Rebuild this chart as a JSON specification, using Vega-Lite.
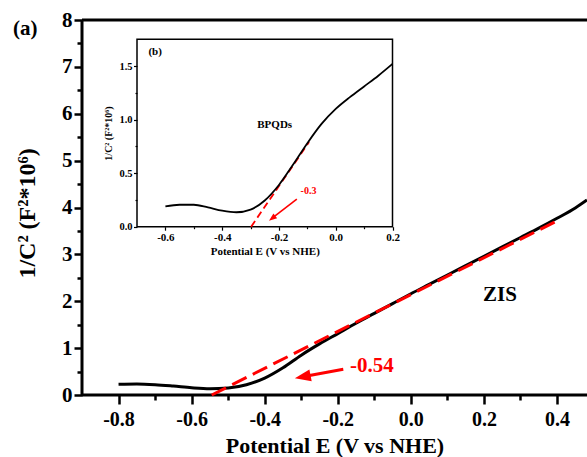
{
  "$schema": "https://vega.github.io/schema/vega-lite/v6.json",
  "width": 505,
  "height": 375,
  "autosize": "none",
  "padding": {"left": 82, "top": 20, "right": 0, "bottom": 62},
  "background": "white",
  "config": {
    "view": {"stroke": null},
    "font": "Liberation Serif",
    "axis": {"domainColor": "black", "tickColor": "black", "labelColor": "black", "titleColor": "black", "grid": false, "labelFont": "Liberation Serif", "titleFont": "Liberation Serif", "labelFontWeight": "bold", "titleFontWeight": "bold", "labelFlush": false, "labelOverlap": false}
  },
  "title": {"text": "(a)", "anchor": "start", "frame": "group", "orient": "top", "offset": 0, "fontSize": 21, "font": "Liberation Serif", "fontWeight": "bold", "color": "black", "baseline": "alphabetic", "dx": -69, "dy": 47},
  "datasets": {
    "zis": [
      {"E": -0.8, "C": 0.23}, {"E": -0.75, "C": 0.235}, {"E": -0.7, "C": 0.22}, {"E": -0.65, "C": 0.19},
      {"E": -0.6, "C": 0.155}, {"E": -0.55, "C": 0.135}, {"E": -0.5, "C": 0.15}, {"E": -0.45, "C": 0.22},
      {"E": -0.4, "C": 0.36}, {"E": -0.35, "C": 0.58}, {"E": -0.3, "C": 0.85}, {"E": -0.25, "C": 1.09},
      {"E": -0.2, "C": 1.31}, {"E": -0.15, "C": 1.53}, {"E": -0.1, "C": 1.74}, {"E": -0.05, "C": 1.95},
      {"E": 0.0, "C": 2.16}, {"E": 0.05, "C": 2.36}, {"E": 0.1, "C": 2.56}, {"E": 0.15, "C": 2.76},
      {"E": 0.2, "C": 2.96}, {"E": 0.25, "C": 3.16}, {"E": 0.3, "C": 3.36}, {"E": 0.35, "C": 3.56},
      {"E": 0.4, "C": 3.77}, {"E": 0.45, "C": 3.99}, {"E": 0.482, "C": 4.16}
    ],
    "zisFit": [{"E": -0.545, "C": 0.0}, {"E": 0.399, "C": 3.71}],
    "zisArrow": [{"E": -0.185, "C": 0.55, "E2": -0.296, "C2": 0.388}],
    "zisHead": [{"E": -0.296, "C": 0.388}],
    "zisNotes": [{"E": -0.107, "C": 0.62, "t": "-0.54"}],
    "zisLabel": [{"E": 0.244, "C": 2.13, "t": "ZIS"}],
    "zisFrameH": [{"C": 0}, {"C": 8}],
    "zisFrameV": [{"E": -0.9}],
    "bp": [
      {"E": -0.6, "C": 0.19}, {"E": -0.55, "C": 0.205}, {"E": -0.5, "C": 0.205}, {"E": -0.45, "C": 0.18},
      {"E": -0.4, "C": 0.15}, {"E": -0.35, "C": 0.135}, {"E": -0.3, "C": 0.16}, {"E": -0.25, "C": 0.245},
      {"E": -0.2, "C": 0.39}, {"E": -0.15, "C": 0.58}, {"E": -0.1, "C": 0.78}, {"E": -0.05, "C": 0.96},
      {"E": 0.0, "C": 1.1}, {"E": 0.05, "C": 1.21}, {"E": 0.1, "C": 1.31}, {"E": 0.15, "C": 1.41},
      {"E": 0.2, "C": 1.52}
    ],
    "bpFit": [{"E": -0.298, "C": 0.0}, {"E": -0.094, "C": 0.79}],
    "bpArrow": [{"E": -0.137, "C": 0.258, "E2": -0.224, "C2": 0.079}],
    "bpHead": [{"E": -0.224, "C": 0.079}],
    "bpFrame": [{"E": -0.7, "C": 0.0, "E2": 0.2, "C2": 1.75}],
    "bpRed": [{"E": -0.096, "C": 0.337, "t": "-0.3"}],
    "bpBlack": [{"E": -0.636, "C": 1.63, "t": "(b)"}, {"E": -0.215, "C": 0.95, "t": "BPQDs"}]
  },
  "layer": [
    {
      "layer": [
        {
          "layer": [
            {
              "data": {"name": "zis"},
              "mark": {"type": "line", "color": "black", "strokeWidth": 3, "interpolate": "monotone"},
              "encoding": {
                "x": {"field": "E", "type": "quantitative",
                  "scale": {"domain": [-0.9, 0.482], "nice": false, "zero": false},
                  "axis": {"orient": "bottom", "values": [-0.8, -0.6, -0.4, -0.2, 0, 0.2, 0.4],
                    "labelExpr": "replace(format(datum.value, '.1f'), '\u2212', '-')",
                    "domain": false, "tickSize": 9, "tickWidth": 2.5, "labelFontSize": 20, "labelPadding": 5,
                    "title": "Potential E (V vs NHE)", "titleFontSize": 22, "titlePadding": 6}},
                "y": {"field": "C", "type": "quantitative",
                  "scale": {"domain": [0, 8], "nice": false},
                  "axis": {"orient": "left", "values": [0, 1, 2, 3, 4, 5, 6, 7, 8],
                    "domain": false, "tickSize": 8, "tickWidth": 2.5, "labelFontSize": 21, "labelPadding": 2,
                    "title": "1/C\u00b2 (F\u00b2*10\u2076)", "titleFontSize": 24, "titleX": -43, "titleY": 193}}
              }
            },
            {
              "data": {"name": "zisArrow"},
              "mark": {"type": "rule", "color": "#ff0000", "strokeWidth": 3},
              "encoding": {"x": {"field": "E", "type": "quantitative"}, "y": {"field": "C", "type": "quantitative"}, "x2": {"field": "E2"}, "y2": {"field": "C2"}}
            },
            {
              "data": {"name": "zisHead"},
              "mark": {"type": "point", "shape": "M0,-1L0.75,1L-0.75,1Z", "filled": true, "color": "#ff0000", "opacity": 1, "size": 256, "angle": 259},
              "encoding": {"x": {"field": "E", "type": "quantitative"}, "y": {"field": "C", "type": "quantitative"}}
            },
            {
              "data": {"name": "zisNotes"},
              "mark": {"type": "text", "color": "#ff0000", "fontSize": 21, "fontWeight": "bold", "font": "Liberation Serif", "align": "center", "baseline": "middle"},
              "encoding": {"x": {"field": "E", "type": "quantitative"}, "y": {"field": "C", "type": "quantitative"}, "text": {"field": "t"}}
            },
            {
              "data": {"name": "zisLabel"},
              "mark": {"type": "text", "color": "black", "fontSize": 21, "fontWeight": "bold", "font": "Liberation Serif", "align": "center", "baseline": "middle"},
              "encoding": {"x": {"field": "E", "type": "quantitative"}, "y": {"field": "C", "type": "quantitative"}, "text": {"field": "t"}}
            },
            {
              "data": {"name": "zisFrameH"},
              "mark": {"type": "rule", "color": "black", "strokeWidth": 3},
              "encoding": {"y": {"field": "C", "type": "quantitative"}}
            },
            {
              "data": {"name": "zisFrameV"},
              "mark": {"type": "rule", "color": "black", "strokeWidth": 3},
              "encoding": {"x": {"field": "E", "type": "quantitative"}}
            }
          ]
        },
        {
          "data": {"name": "zisFit"},
          "mark": {"type": "line", "color": "#ff0000", "strokeWidth": 3, "strokeDash": [16, 7]},
          "encoding": {
            "x": {"field": "E", "type": "quantitative",
              "axis": {"orient": "bottom", "values": [-0.7, -0.5, -0.3, -0.1, 0.1, 0.3], "labels": false, "domain": false, "tickSize": 5, "tickWidth": 2.5, "title": null}},
            "y": {"field": "C", "type": "quantitative",
              "axis": {"orient": "left", "values": [0.5, 1.5, 2.5, 3.5, 4.5, 5.5, 6.5, 7.5], "labels": false, "domain": false, "tickSize": 5, "tickWidth": 2.5, "title": null}}
          }
        }
      ],
      "resolve": {"axis": {"x": "independent", "y": "independent"}}
    },
    {
      "layer": [
        {
          "layer": [
            {
              "data": {"name": "bpFrame"},
              "mark": {"type": "rect", "fill": null, "fillOpacity": 0, "stroke": "black", "strokeWidth": 1.5},
              "encoding": {
                "x": {"field": "E", "type": "quantitative",
                  "scale": {"domain": [-0.7, 0.2], "range": [55, 310.5], "nice": false, "zero": false},
                  "axis": {"orient": "bottom", "offset": -168.3,
                    "values": [-0.6, -0.4, -0.2, 0, 0.2],
                    "labelExpr": "replace(format(datum.value, '.1f'), '\u2212', '-')",
                    "domain": false, "tickSize": 3.5, "tickWidth": 1.2, "labelFontSize": 11, "labelPadding": 1.5,
                    "title": "Potential E (V vs NHE)", "titleFontSize": 11, "titlePadding": 3}},
                "x2": {"field": "E2"},
                "y": {"field": "C", "type": "quantitative",
                  "scale": {"domain": [0, 1.75], "range": [206.7, 19.3], "nice": false},
                  "axis": {"orient": "left", "offset": -55,
                    "values": [0, 0.5, 1, 1.5],
                    "labelExpr": "format(datum.value, '.1f')",
                    "domain": false, "tickSize": 3.5, "tickWidth": 1.2, "labelFontSize": 10.5, "labelPadding": 1.5,
                    "title": "1/C\u00b2 (F\u00b2*10\u2076)", "titleFontSize": 10, "titlePadding": 5}},
                "y2": {"field": "C2"}
              }
            },
            {
              "data": {"name": "bpFit"},
              "mark": {"type": "line", "color": "#ff0000", "strokeWidth": 1.8, "strokeDash": [7, 4]},
              "encoding": {"x": {"field": "E", "type": "quantitative"}, "y": {"field": "C", "type": "quantitative"}}
            },
            {
              "data": {"name": "bpArrow"},
              "mark": {"type": "rule", "color": "#ff0000", "strokeWidth": 1.6},
              "encoding": {"x": {"field": "E", "type": "quantitative"}, "y": {"field": "C", "type": "quantitative"}, "x2": {"field": "E2"}, "y2": {"field": "C2"}}
            },
            {
              "data": {"name": "bpHead"},
              "mark": {"type": "point", "shape": "M0,-1L0.75,1L-0.75,1Z", "filled": true, "color": "#ff0000", "opacity": 1, "size": 64, "angle": 232},
              "encoding": {"x": {"field": "E", "type": "quantitative"}, "y": {"field": "C", "type": "quantitative"}}
            },
            {
              "data": {"name": "bpRed"},
              "mark": {"type": "text", "color": "#ff0000", "fontSize": 10, "fontWeight": "bold", "font": "Liberation Serif", "align": "center", "baseline": "middle"},
              "encoding": {"x": {"field": "E", "type": "quantitative"}, "y": {"field": "C", "type": "quantitative"}, "text": {"field": "t"}}
            },
            {
              "data": {"name": "bpBlack"},
              "mark": {"type": "text", "color": "black", "fontSize": 11, "fontWeight": "bold", "font": "Liberation Serif", "align": "center", "baseline": "middle"},
              "encoding": {"x": {"field": "E", "type": "quantitative"}, "y": {"field": "C", "type": "quantitative"}, "text": {"field": "t"}}
            }
          ]
        },
        {
          "data": {"name": "bp"},
          "mark": {"type": "line", "color": "black", "strokeWidth": 1.8, "interpolate": "monotone"},
          "encoding": {
            "x": {"field": "E", "type": "quantitative",
              "axis": {"orient": "bottom", "offset": -168.3, "values": [-0.5, -0.3, -0.1, 0.1], "labels": false, "domain": false, "tickSize": 2, "tickWidth": 1.2, "title": null}},
            "y": {"field": "C", "type": "quantitative",
              "axis": {"orient": "left", "offset": -55, "values": [0.25, 0.75, 1.25], "labels": false, "domain": false, "tickSize": 2, "tickWidth": 1.2, "title": null}}
          }
        }
      ],
      "resolve": {"axis": {"x": "independent", "y": "independent"}}
    }
  ],
  "resolve": {"scale": {"x": "independent", "y": "independent"}, "axis": {"x": "independent", "y": "independent"}}
}
